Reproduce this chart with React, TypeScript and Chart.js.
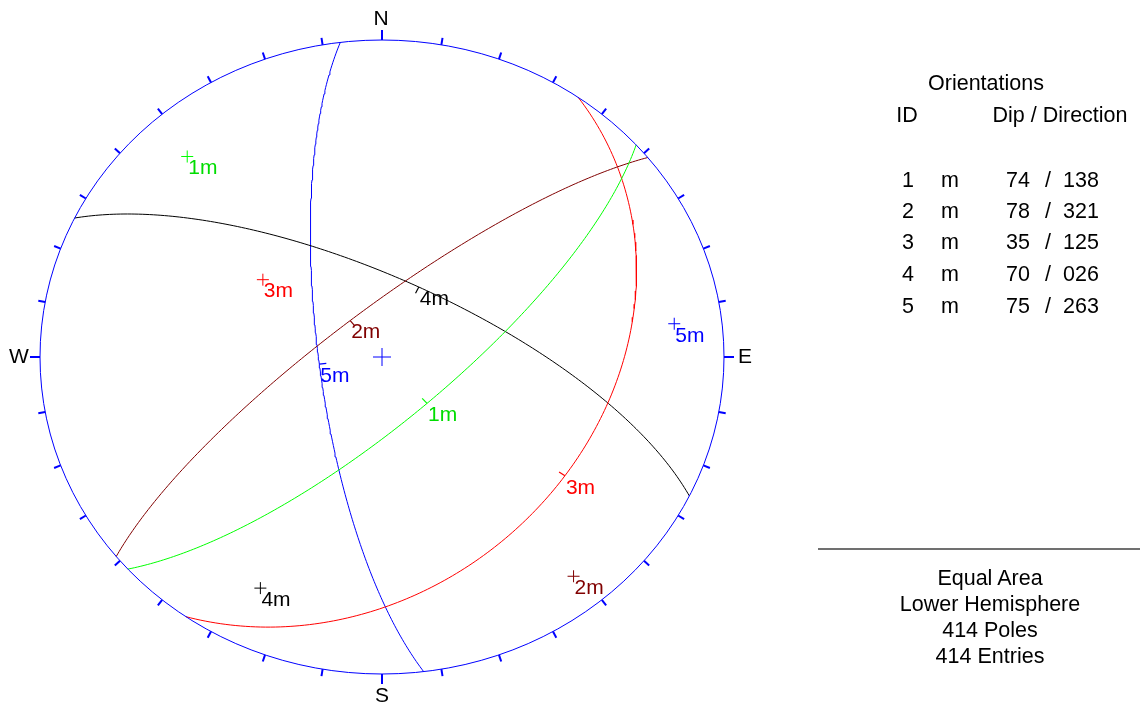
import React, { useEffect, useRef } from 'react';
import { Chart, registerables } from 'chart.js';

Chart.register(...registerables);

// ---- Data ----
const planeIds = ['1', '2', '3', '4', '5'];
const planeSets = ['m', 'm', 'm', 'm', 'm'];
const dips = [74, 78, 35, 70, 75];
const dipDirections = [138, 321, 125, 26, 263];
const dipDirectionLabels = ['138', '321', '125', '026', '263'];
const lineColors = ['#00ff00', '#800000', '#ff0000', '#000000', '#0000ff'];
const labelColors = ['#00dd00', '#800000', '#ff0000', '#000000', '#0000ff'];
const compassLabels = ['N', 'E', 'S', 'W'];
const summaryLines = ['Equal Area', 'Lower Hemisphere', '414 Poles', '414 Entries'];

const D = Math.PI / 180;
const FONT = '"Liberation Sans", Arial, sans-serif';

// equal-area, lower hemisphere projection of a line (trend, plunge)
function project(trend: number, plunge: number) {
  const r = Math.sqrt(Math.max(0, 1 - Math.sin(plunge * D)));
  return { x: r * Math.sin(trend * D), y: r * Math.cos(trend * D) };
}

function greatCircle(dip: number, dd: number) {
  const pts: { x: number; y: number }[] = [];
  const sE = Math.sin((dd - 90) * D), sN = Math.cos((dd - 90) * D);
  const dE = Math.sin(dd * D) * Math.cos(dip * D);
  const dN = Math.cos(dd * D) * Math.cos(dip * D);
  const dD = Math.sin(dip * D);
  for (let i = 0; i <= 180; i++) {
    const t = i * D;
    const e = Math.cos(t) * sE + Math.sin(t) * dE;
    const n = Math.cos(t) * sN + Math.sin(t) * dN;
    const d = Math.sin(t) * dD;
    const h = Math.hypot(e, n);
    const r = Math.sqrt(Math.max(0, 1 - d));
    pts.push(h < 1e-9 ? { x: 0, y: 0 } : { x: (r * e) / h, y: (r * n) / h });
  }
  return pts;
}

const poles = dips.map((d, i) => project(dipDirections[i] + 180, 90 - d));
const dipPoints = dips.map((d, i) => project(dipDirections[i], d));

const stereoPlugin = {
  id: 'stereo',
  afterDatasetsDraw(chart: any) {
    const ctx = chart.ctx as CanvasRenderingContext2D;
    const xs = chart.scales.x, ys = chart.scales.y;
    const cx = xs.getPixelForValue(0), cy = ys.getPixelForValue(0);
    const rx = xs.getPixelForValue(1) - cx;
    const ry = cy - ys.getPixelForValue(1);
    ctx.save();
    // primitive circle
    ctx.strokeStyle = '#0000ff';
    ctx.lineWidth = 1;
    ctx.beginPath();
    ctx.ellipse(cx, cy, rx, ry, 0, 0, Math.PI * 2);
    ctx.stroke();
    // ticks every 10 degrees
    for (let a = 0; a < 360; a += 10) {
      const sx = Math.sin(a * D), sy = Math.cos(a * D);
      const px = cx + rx * sx, py = cy - ry * sy;
      let nx = sx / rx, ny = -sy / ry;
      const nl = Math.hypot(nx, ny);
      nx /= nl; ny /= nl;
      const major = a % 90 === 0;
      const len = major ? 10 : 7;
      ctx.lineWidth = 2;
      ctx.beginPath();
      ctx.moveTo(px, py);
      ctx.lineTo(px + nx * len, py + ny * len);
      ctx.stroke();
    }
    // compass labels
    ctx.fillStyle = '#000';
    ctx.font = `21px ${FONT}`;
    ctx.textAlign = 'center';
    ctx.textBaseline = 'middle';
    compassLabels.forEach((lab, i) => {
      const a = i * 90;
      const sx = Math.sin(a * D), sy = Math.cos(a * D);
      const off = 21;
      const px = cx + (rx + off) * sx, py = cy - (ry + off) * sy;
      ctx.fillText(lab, px + (i === 0 ? -1 : 0), py + (i === 2 ? 1 : 0));
    });
    // pole labels and dip markers
    ctx.textAlign = 'left';
    for (let i = 0; i < dips.length; i++) {
      const label = planeIds[i] + planeSets[i];
      ctx.fillStyle = labelColors[i];
      const pp = { x: xs.getPixelForValue(poles[i].x), y: ys.getPixelForValue(poles[i].y) };
      ctx.fillText(label, pp.x + 1, pp.y + 12);
      const dp = { x: xs.getPixelForValue(dipPoints[i].x), y: ys.getPixelForValue(dipPoints[i].y) };
      ctx.fillText(label, dp.x + 1, dp.y + 12);
      // tick toward center
      let tx = cx - dp.x, ty = cy - dp.y;
      const tl = Math.hypot(tx, ty) || 1;
      tx /= tl; ty /= tl;
      ctx.strokeStyle = lineColors[i];
      ctx.lineWidth = 1.2;
      ctx.beginPath();
      ctx.moveTo(dp.x, dp.y);
      ctx.lineTo(dp.x + tx * 7, dp.y + ty * 7);
      ctx.stroke();
    }
    ctx.restore();
  },
};

export default function App() {
  const ref = useRef<HTMLCanvasElement>(null);
  useEffect(() => {
    if (!ref.current) return;
    const datasets: any[] = [];
    dips.forEach((d, i) => {
      datasets.push({
        label: 'plane ' + planeIds[i],
        data: greatCircle(d, dipDirections[i]),
        showLine: true,
        borderColor: lineColors[i],
        borderWidth: 1,
        pointRadius: 0,
        fill: false,
      });
    });
    dips.forEach((_, i) => {
      datasets.push({
        label: 'pole ' + planeIds[i],
        data: [poles[i]],
        pointStyle: 'cross',
        pointRadius: 6,
        borderColor: lineColors[i],
        backgroundColor: lineColors[i],
        borderWidth: 1,
      });
    });
    datasets.push({
      label: 'center',
      data: [{ x: 0, y: 0 }],
      pointStyle: 'cross',
      pointRadius: 9,
      borderColor: '#0000ff',
      borderWidth: 1,
    });
    const chart = new Chart(ref.current, {
      type: 'scatter',
      data: { datasets },
      options: {
        responsive: false,
        animation: false,
        events: [],
        layout: { padding: { left: 40, right: 416, top: 40, bottom: 30 } },
        scales: {
          x: { type: 'linear', min: -1, max: 1, display: false },
          y: { type: 'linear', min: -1, max: 1, display: false },
        },
        plugins: { legend: { display: false }, tooltip: { enabled: false } },
      },
      plugins: [stereoPlugin],
    });
    return () => chart.destroy();
  }, []);

  const txt = (s: string, x: number, y: number, extra: any = {}) => (
    <div
      key={s + x + '-' + y}
      style={{
        position: 'absolute',
        left: x,
        top: y + 2,
        transform: 'translate(-50%, -50%)',
        whiteSpace: 'pre',
        lineHeight: 1,
        fontFamily: FONT,
        fontSize: 21.5,
        color: '#000',
        ...extra,
      }}
    >
      {s}
    </div>
  );

  const rowYs = [179, 210, 241, 273, 305];
  return (
    <div style={{ position: 'absolute', left: 0, top: 0, width: 1140, height: 704, background: '#fff', overflow: 'hidden' }}>
      <canvas ref={ref} width={1140} height={704} style={{ position: 'absolute', left: 0, top: 0 }} />
      {txt('Orientations', 986, 82)}
      {txt('ID', 907, 114)}
      {txt('Dip / Direction', 1060, 114)}
      {planeIds.map((id, i) => (
        <React.Fragment key={'row' + i}>
          {txt(id, 908, rowYs[i])}
          {txt(planeSets[i], 950, rowYs[i])}
          {txt(String(dips[i]), 1018, rowYs[i])}
          {txt('/', 1048, rowYs[i])}
          {txt(dipDirectionLabels[i], 1081, rowYs[i])}
        </React.Fragment>
      ))}
      <div style={{ position: 'absolute', left: 818, top: 548, width: 322, height: 2, background: '#707070' }} />
      {summaryLines.map((s, i) => txt(s, 990, 577 + i * 26))}
    </div>
  );
}
